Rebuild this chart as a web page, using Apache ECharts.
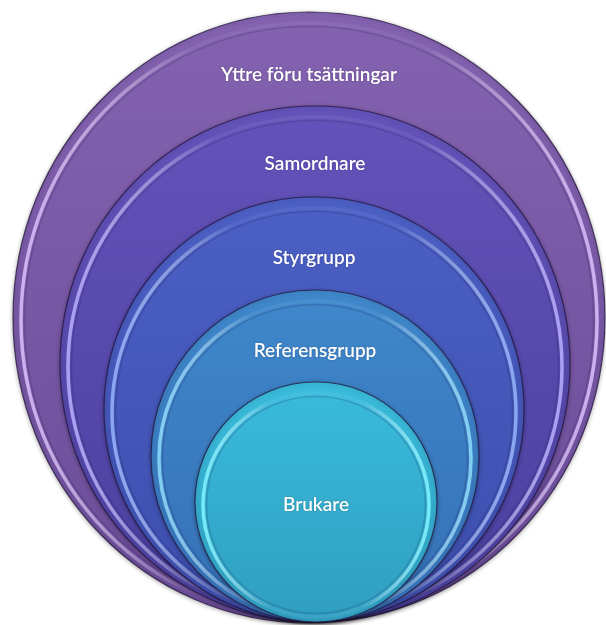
<!DOCTYPE html>
<html>
<head>
<meta charset="utf-8">
<script src="https://cdn.jsdelivr.net/npm/echarts@6/dist/echarts.min.js"></script>
<style>
  html, body { margin: 0; padding: 0; background: #fff; }
  #chart { width: 606px; height: 625px; }
</style>
</head>
<body>
<div id="chart"></div>
<script>
// nivåer, ytterst först
var circleNames  = ['Yttre föru tsättningar', 'Samordnare', 'Styrgrupp', 'Referensgrupp', 'Brukare'];
var circleLeft   = [13, 60, 104, 151, 195];
var circleRight  = [605, 570, 524, 479, 437];
var circleTop    = [12, 106, 197, 290, 382];
var circleBottom = [623, 622, 622, 622, 622];
var labelY       = [75, 164, 258, 351, 505];

var fillTop    = ['#8462b0', '#6453ba', '#4c60c5', '#3f88cb', '#3abcdc'];
var fillBottom = ['#6a4c98', '#4a3f9e', '#3c4dac', '#3570b6', '#2f9ec0'];
var rimColor   = ['#cdb0f2', '#ab9ff4', '#8aa6f2', '#80cff4', '#72ecfa'];

var chart = echarts.init(document.getElementById('chart'));

function renderCircle(params, api) {
    var i = params.dataIndex;
    var p1 = api.coord([api.value(0), api.value(1)]);
    var p2 = api.coord([api.value(2), api.value(3)]);
    var cx = (p1[0] + p2[0]) / 2, cy = (p1[1] + p2[1]) / 2;
    var rx = Math.abs(p2[0] - p1[0]) / 2, ry = Math.abs(p2[1] - p1[1]) / 2;
    var lp = api.coord([api.value(0), api.value(4)]);
    var inset = 8;
    return {
        type: 'group',
        children: [
            {
                type: 'ellipse',
                shape: { cx: cx, cy: cy, rx: rx, ry: ry },
                style: {
                    fill: new echarts.graphic.LinearGradient(0, 0, 0, 1, [
                        { offset: 0, color: fillTop[i] },
                        { offset: 1, color: fillBottom[i] }
                    ]),
                    stroke: 'rgba(35,20,60,0.75)',
                    lineWidth: 1.2,
                    shadowBlur: 4,
                    shadowColor: 'rgba(0,0,0,0.3)',
                    shadowOffsetY: 1
                }
            },
            {
                type: 'ellipse',
                shape: { cx: cx, cy: cy + 3, rx: rx - inset, ry: ry - inset },
                style: {
                    fill: null,
                    stroke: new echarts.graphic.LinearGradient(0, 0, 1, 0, [
                        { offset: 0, color: rimColor[i] },
                        { offset: 0.3, color: 'rgba(255,255,255,0.06)' },
                        { offset: 0.7, color: 'rgba(255,255,255,0.06)' },
                        { offset: 1, color: rimColor[i] }
                    ]),
                    lineWidth: 3.5
                }
            },
            {
                type: 'ellipse',
                shape: { cx: cx, cy: cy + 3, rx: rx - inset - 3.5, ry: ry - inset - 3.5 },
                style: {
                    fill: null,
                    stroke: 'rgba(30,20,70,0.18)',
                    lineWidth: 1.5
                }
            },
            {
                type: 'text',
                x: cx,
                y: lp[1],
                style: {
                    text: circleNames[i],
                    fill: '#ffffff',
                    font: '600 19px Lato, "Open Sans", sans-serif',
                    align: 'center',
                    verticalAlign: 'middle',
                    textShadowColor: 'rgba(0,0,0,0.25)',
                    textShadowBlur: 2
                }
            }
        ]
    };
}

var seriesData = circleNames.map(function (name, i) {
    return [circleLeft[i], circleTop[i], circleRight[i], circleBottom[i], labelY[i]];
});

var option = {
    backgroundColor: '#ffffff',
    animation: false,
    grid: { left: 0, right: 0, top: 0, bottom: 0 },
    xAxis: { type: 'value', min: 0, max: 606, show: false },
    yAxis: { type: 'value', min: 0, max: 625, inverse: true, show: false },
    series: [
        {
            type: 'custom',
            renderItem: renderCircle,
            encode: { x: [0, 2], y: [1, 3] },
            data: seriesData,
            clip: false
        }
    ]
};

chart.setOption(option);
</script>
</body>
</html>
